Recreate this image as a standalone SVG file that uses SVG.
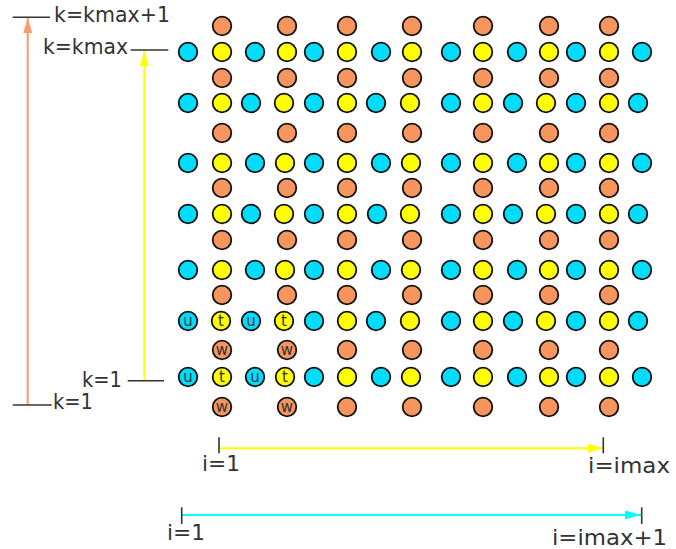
<svg xmlns="http://www.w3.org/2000/svg" width="676" height="549" viewBox="0 0 676 549">
<style>
.c{fill:#00dcfc;stroke:#111;stroke-width:1.8}
.y{fill:#ffff00;stroke:#111;stroke-width:1.8}
.o{fill:#f7955f;stroke:#111;stroke-width:1.8}
.lbl{font-family:"DejaVu Sans",sans-serif;font-size:21px;fill:#333}
.sm{font-family:"DejaVu Sans",sans-serif;font-size:15px;fill:#333;text-anchor:middle}
.dk{stroke:#333;stroke-width:1.6;fill:none}
</style>
<defs>
<marker id="aO" markerUnits="userSpaceOnUse" markerWidth="15" markerHeight="9" refX="15" refY="4.5" orient="auto"><path d="M0,0 L15,4.5 L0,9 z" fill="#fa9a6a"/></marker>
<marker id="aY" markerUnits="userSpaceOnUse" markerWidth="15" markerHeight="9" refX="15" refY="4.5" orient="auto"><path d="M0,0 L15,4.5 L0,9 z" fill="#ffff00"/></marker>
<marker id="aC" markerUnits="userSpaceOnUse" markerWidth="16" markerHeight="9" refX="16" refY="4.5" orient="auto"><path d="M0,0 L16,4.5 L0,9 z" fill="#00ffff"/></marker>
</defs>
<g id="connectors">
<line x1="27.7" y1="405" x2="27.7" y2="18" stroke="#fa9a6a" stroke-width="2" marker-end="url(#aO)"/>
<line x1="144.3" y1="380.7" x2="144.3" y2="51" stroke="#ffff00" stroke-width="2" marker-end="url(#aY)"/>
<line x1="219" y1="448.3" x2="603" y2="448.3" stroke="#ffff00" stroke-width="2" marker-end="url(#aY)"/>
<line x1="181.7" y1="515" x2="641" y2="515" stroke="#00ffff" stroke-width="2" marker-end="url(#aC)"/>
<line class="dk" x1="12.7" y1="17.3" x2="50" y2="17.3"/>
<line class="dk" x1="130.7" y1="50" x2="168.3" y2="50"/>
<line class="dk" x1="127.7" y1="380.7" x2="164" y2="380.7"/>
<line class="dk" x1="12.7" y1="405" x2="51.7" y2="405"/>
<line class="dk" x1="219" y1="437.3" x2="219" y2="453.3"/>
<line class="dk" x1="603.3" y1="437.3" x2="603.3" y2="453.3"/>
<line class="dk" x1="181.7" y1="507.3" x2="181.7" y2="524"/>
<line class="dk" x1="641.7" y1="507.3" x2="641.7" y2="524"/>
</g>
<g id="labels">
<text class="lbl" x="54" y="22" textLength="116" lengthAdjust="spacingAndGlyphs">k=kmax+1</text>
<text class="lbl" x="43" y="54" textLength="85" lengthAdjust="spacingAndGlyphs">k=kmax</text>
<text class="lbl" x="82" y="387" textLength="40" lengthAdjust="spacingAndGlyphs">k=1</text>
<text class="lbl" x="53" y="409" textLength="40" lengthAdjust="spacingAndGlyphs">k=1</text>
<text class="lbl" x="202" y="471" textLength="38" lengthAdjust="spacingAndGlyphs">i=1</text>
<text class="lbl" x="588" y="473" textLength="82" lengthAdjust="spacingAndGlyphs">i=imax</text>
<text class="lbl" x="167" y="540" textLength="38" lengthAdjust="spacingAndGlyphs">i=1</text>
<text class="lbl" x="552" y="545" textLength="115" lengthAdjust="spacingAndGlyphs">i=imax+1</text>
</g>
<g id="orange-row1">
<g id="o1-1"><circle class="o" cx="222" cy="26" r="9.3"/></g>
<g id="o1-2"><circle class="o" cx="287" cy="26" r="9.3"/></g>
<g id="o1-3"><circle class="o" cx="347" cy="26" r="9.3"/></g>
<g id="o1-4"><circle class="o" cx="412" cy="26" r="9.3"/></g>
<g id="o1-5"><circle class="o" cx="483" cy="26" r="9.3"/></g>
<g id="o1-6"><circle class="o" cx="549" cy="26" r="9.3"/></g>
<g id="o1-7"><circle class="o" cx="609" cy="26" r="9.3"/></g>
</g>
<g id="orange-row2">
<g id="o2-1"><circle class="o" cx="222" cy="78" r="9.3"/></g>
<g id="o2-2"><circle class="o" cx="287" cy="78" r="9.3"/></g>
<g id="o2-3"><circle class="o" cx="347" cy="78" r="9.3"/></g>
<g id="o2-4"><circle class="o" cx="412" cy="78" r="9.3"/></g>
<g id="o2-5"><circle class="o" cx="483" cy="78" r="9.3"/></g>
<g id="o2-6"><circle class="o" cx="549" cy="78" r="9.3"/></g>
<g id="o2-7"><circle class="o" cx="609" cy="78" r="9.3"/></g>
</g>
<g id="orange-row3">
<g id="o3-1"><circle class="o" cx="222" cy="133" r="9.3"/></g>
<g id="o3-2"><circle class="o" cx="287" cy="133" r="9.3"/></g>
<g id="o3-3"><circle class="o" cx="347" cy="133" r="9.3"/></g>
<g id="o3-4"><circle class="o" cx="412" cy="133" r="9.3"/></g>
<g id="o3-5"><circle class="o" cx="483" cy="133" r="9.3"/></g>
<g id="o3-6"><circle class="o" cx="549" cy="133" r="9.3"/></g>
<g id="o3-7"><circle class="o" cx="609" cy="133" r="9.3"/></g>
</g>
<g id="orange-row4">
<g id="o4-1"><circle class="o" cx="222" cy="188" r="9.3"/></g>
<g id="o4-2"><circle class="o" cx="287" cy="188" r="9.3"/></g>
<g id="o4-3"><circle class="o" cx="347" cy="188" r="9.3"/></g>
<g id="o4-4"><circle class="o" cx="412" cy="188" r="9.3"/></g>
<g id="o4-5"><circle class="o" cx="483" cy="188" r="9.3"/></g>
<g id="o4-6"><circle class="o" cx="549" cy="188" r="9.3"/></g>
<g id="o4-7"><circle class="o" cx="609" cy="188" r="9.3"/></g>
</g>
<g id="orange-row5">
<g id="o5-1"><circle class="o" cx="222" cy="240" r="9.3"/></g>
<g id="o5-2"><circle class="o" cx="287" cy="240" r="9.3"/></g>
<g id="o5-3"><circle class="o" cx="347" cy="240" r="9.3"/></g>
<g id="o5-4"><circle class="o" cx="412" cy="240" r="9.3"/></g>
<g id="o5-5"><circle class="o" cx="483" cy="240" r="9.3"/></g>
<g id="o5-6"><circle class="o" cx="549" cy="240" r="9.3"/></g>
<g id="o5-7"><circle class="o" cx="609" cy="240" r="9.3"/></g>
</g>
<g id="orange-row6">
<g id="o6-1"><circle class="o" cx="222" cy="295" r="9.3"/></g>
<g id="o6-2"><circle class="o" cx="287" cy="295" r="9.3"/></g>
<g id="o6-3"><circle class="o" cx="347" cy="295" r="9.3"/></g>
<g id="o6-4"><circle class="o" cx="412" cy="295" r="9.3"/></g>
<g id="o6-5"><circle class="o" cx="483" cy="295" r="9.3"/></g>
<g id="o6-6"><circle class="o" cx="549" cy="295" r="9.3"/></g>
<g id="o6-7"><circle class="o" cx="609" cy="295" r="9.3"/></g>
</g>
<g id="orange-row7">
<g id="o7-1"><circle class="o" cx="222" cy="350" r="9.3"/><text class="sm" x="222" y="355">w</text></g>
<g id="o7-2"><circle class="o" cx="287" cy="350" r="9.3"/><text class="sm" x="287" y="355">w</text></g>
<g id="o7-3"><circle class="o" cx="347" cy="350" r="9.3"/></g>
<g id="o7-4"><circle class="o" cx="412" cy="350" r="9.3"/></g>
<g id="o7-5"><circle class="o" cx="483" cy="350" r="9.3"/></g>
<g id="o7-6"><circle class="o" cx="549" cy="350" r="9.3"/></g>
<g id="o7-7"><circle class="o" cx="609" cy="350" r="9.3"/></g>
</g>
<g id="orange-row8">
<g id="o8-1"><circle class="o" cx="222" cy="407" r="9.3"/><text class="sm" x="222" y="412">w</text></g>
<g id="o8-2"><circle class="o" cx="287" cy="407" r="9.3"/><text class="sm" x="287" y="412">w</text></g>
<g id="o8-3"><circle class="o" cx="347" cy="407" r="9.3"/></g>
<g id="o8-4"><circle class="o" cx="412" cy="407" r="9.3"/></g>
<g id="o8-5"><circle class="o" cx="483" cy="407" r="9.3"/></g>
<g id="o8-6"><circle class="o" cx="549" cy="407" r="9.3"/></g>
<g id="o8-7"><circle class="o" cx="609" cy="407" r="9.3"/></g>
</g>
<g id="row1">
<g id="c1-1"><circle class="c" cx="188" cy="52" r="9.3"/></g>
<g id="y1-1"><circle class="y" cx="222" cy="52" r="9.3"/></g>
<g id="c1-2"><circle class="c" cx="255" cy="52" r="9.3"/></g>
<g id="y1-2"><circle class="y" cx="287" cy="52" r="9.3"/></g>
<g id="c1-3"><circle class="c" cx="314" cy="52" r="9.3"/></g>
<g id="y1-3"><circle class="y" cx="347" cy="52" r="9.3"/></g>
<g id="c1-4"><circle class="c" cx="381" cy="52" r="9.3"/></g>
<g id="y1-4"><circle class="y" cx="412" cy="52" r="9.3"/></g>
<g id="c1-5"><circle class="c" cx="451" cy="52" r="9.3"/></g>
<g id="y1-5"><circle class="y" cx="483" cy="52" r="9.3"/></g>
<g id="c1-6"><circle class="c" cx="517" cy="52" r="9.3"/></g>
<g id="y1-6"><circle class="y" cx="549" cy="52" r="9.3"/></g>
<g id="c1-7"><circle class="c" cx="576" cy="52" r="9.3"/></g>
<g id="y1-7"><circle class="y" cx="609" cy="52" r="9.3"/></g>
<g id="c1-8"><circle class="c" cx="642" cy="52" r="9.3"/></g>
</g>
<g id="row2">
<g id="c2-1"><circle class="c" cx="188" cy="103" r="9.3"/></g>
<g id="y2-1"><circle class="y" cx="222" cy="103" r="9.3"/></g>
<g id="c2-2"><circle class="c" cx="251" cy="103" r="9.3"/></g>
<g id="y2-2"><circle class="y" cx="284" cy="103" r="9.3"/></g>
<g id="c2-3"><circle class="c" cx="314" cy="103" r="9.3"/></g>
<g id="y2-3"><circle class="y" cx="347" cy="103" r="9.3"/></g>
<g id="c2-4"><circle class="c" cx="376" cy="103" r="9.3"/></g>
<g id="y2-4"><circle class="y" cx="410" cy="103" r="9.3"/></g>
<g id="c2-5"><circle class="c" cx="451" cy="103" r="9.3"/></g>
<g id="y2-5"><circle class="y" cx="483" cy="103" r="9.3"/></g>
<g id="c2-6"><circle class="c" cx="513" cy="103" r="9.3"/></g>
<g id="y2-6"><circle class="y" cx="546" cy="103" r="9.3"/></g>
<g id="c2-7"><circle class="c" cx="576" cy="103" r="9.3"/></g>
<g id="y2-7"><circle class="y" cx="609" cy="103" r="9.3"/></g>
<g id="c2-8"><circle class="c" cx="638" cy="103" r="9.3"/></g>
</g>
<g id="row3">
<g id="c3-1"><circle class="c" cx="188" cy="163" r="9.3"/></g>
<g id="y3-1"><circle class="y" cx="222" cy="163" r="9.3"/></g>
<g id="c3-2"><circle class="c" cx="255" cy="163" r="9.3"/></g>
<g id="y3-2"><circle class="y" cx="285" cy="163" r="9.3"/></g>
<g id="c3-3"><circle class="c" cx="314" cy="163" r="9.3"/></g>
<g id="y3-3"><circle class="y" cx="347" cy="163" r="9.3"/></g>
<g id="c3-4"><circle class="c" cx="381" cy="163" r="9.3"/></g>
<g id="y3-4"><circle class="y" cx="411" cy="163" r="9.3"/></g>
<g id="c3-5"><circle class="c" cx="451" cy="163" r="9.3"/></g>
<g id="y3-5"><circle class="y" cx="483" cy="163" r="9.3"/></g>
<g id="c3-6"><circle class="c" cx="517" cy="163" r="9.3"/></g>
<g id="y3-6"><circle class="y" cx="549" cy="163" r="9.3"/></g>
<g id="c3-7"><circle class="c" cx="576" cy="163" r="9.3"/></g>
<g id="y3-7"><circle class="y" cx="609" cy="163" r="9.3"/></g>
<g id="c3-8"><circle class="c" cx="642" cy="163" r="9.3"/></g>
</g>
<g id="row4">
<g id="c4-1"><circle class="c" cx="188" cy="214" r="9.3"/></g>
<g id="y4-1"><circle class="y" cx="222" cy="214" r="9.3"/></g>
<g id="c4-2"><circle class="c" cx="251" cy="214" r="9.3"/></g>
<g id="y4-2"><circle class="y" cx="284" cy="214" r="9.3"/></g>
<g id="c4-3"><circle class="c" cx="314" cy="214" r="9.3"/></g>
<g id="y4-3"><circle class="y" cx="347" cy="214" r="9.3"/></g>
<g id="c4-4"><circle class="c" cx="377" cy="214" r="9.3"/></g>
<g id="y4-4"><circle class="y" cx="410" cy="214" r="9.3"/></g>
<g id="c4-5"><circle class="c" cx="451" cy="214" r="9.3"/></g>
<g id="y4-5"><circle class="y" cx="483" cy="214" r="9.3"/></g>
<g id="c4-6"><circle class="c" cx="513" cy="214" r="9.3"/></g>
<g id="y4-6"><circle class="y" cx="546" cy="214" r="9.3"/></g>
<g id="c4-7"><circle class="c" cx="576" cy="214" r="9.3"/></g>
<g id="y4-7"><circle class="y" cx="609" cy="214" r="9.3"/></g>
<g id="c4-8"><circle class="c" cx="638" cy="214" r="9.3"/></g>
</g>
<g id="row5">
<g id="c5-1"><circle class="c" cx="188" cy="270" r="9.3"/></g>
<g id="y5-1"><circle class="y" cx="222" cy="270" r="9.3"/></g>
<g id="c5-2"><circle class="c" cx="255" cy="270" r="9.3"/></g>
<g id="y5-2"><circle class="y" cx="285" cy="270" r="9.3"/></g>
<g id="c5-3"><circle class="c" cx="314" cy="270" r="9.3"/></g>
<g id="y5-3"><circle class="y" cx="347" cy="270" r="9.3"/></g>
<g id="c5-4"><circle class="c" cx="381" cy="270" r="9.3"/></g>
<g id="y5-4"><circle class="y" cx="411" cy="270" r="9.3"/></g>
<g id="c5-5"><circle class="c" cx="451" cy="270" r="9.3"/></g>
<g id="y5-5"><circle class="y" cx="483" cy="270" r="9.3"/></g>
<g id="c5-6"><circle class="c" cx="517" cy="270" r="9.3"/></g>
<g id="y5-6"><circle class="y" cx="549" cy="270" r="9.3"/></g>
<g id="c5-7"><circle class="c" cx="576" cy="270" r="9.3"/></g>
<g id="y5-7"><circle class="y" cx="609" cy="270" r="9.3"/></g>
<g id="c5-8"><circle class="c" cx="642" cy="270" r="9.3"/></g>
</g>
<g id="row6">
<g id="c6-1"><circle class="c" cx="188" cy="321" r="9.3"/><text class="sm" x="188" y="325.5">u</text></g>
<g id="y6-1"><circle class="y" cx="221" cy="321" r="9.3"/><text class="sm" x="221" y="325.5">t</text></g>
<g id="c6-2"><circle class="c" cx="251" cy="321" r="9.3"/><text class="sm" x="251" y="325.5">u</text></g>
<g id="y6-2"><circle class="y" cx="284" cy="321" r="9.3"/><text class="sm" x="284" y="325.5">t</text></g>
<g id="c6-3"><circle class="c" cx="314" cy="321" r="9.3"/></g>
<g id="y6-3"><circle class="y" cx="347" cy="321" r="9.3"/></g>
<g id="c6-4"><circle class="c" cx="376" cy="321" r="9.3"/></g>
<g id="y6-4"><circle class="y" cx="410" cy="321" r="9.3"/></g>
<g id="c6-5"><circle class="c" cx="451" cy="321" r="9.3"/></g>
<g id="y6-5"><circle class="y" cx="483" cy="321" r="9.3"/></g>
<g id="c6-6"><circle class="c" cx="513" cy="321" r="9.3"/></g>
<g id="y6-6"><circle class="y" cx="546" cy="321" r="9.3"/></g>
<g id="c6-7"><circle class="c" cx="576" cy="321" r="9.3"/></g>
<g id="y6-7"><circle class="y" cx="609" cy="321" r="9.3"/></g>
<g id="c6-8"><circle class="c" cx="638" cy="321" r="9.3"/></g>
</g>
<g id="row7">
<g id="c7-1"><circle class="c" cx="188" cy="377" r="9.3"/><text class="sm" x="188" y="381.5">u</text></g>
<g id="y7-1"><circle class="y" cx="222" cy="377" r="9.3"/><text class="sm" x="222" y="381.5">t</text></g>
<g id="c7-2"><circle class="c" cx="255" cy="377" r="9.3"/><text class="sm" x="255" y="381.5">u</text></g>
<g id="y7-2"><circle class="y" cx="285" cy="377" r="9.3"/><text class="sm" x="285" y="381.5">t</text></g>
<g id="c7-3"><circle class="c" cx="314" cy="377" r="9.3"/></g>
<g id="y7-3"><circle class="y" cx="347" cy="377" r="9.3"/></g>
<g id="c7-4"><circle class="c" cx="381" cy="377" r="9.3"/></g>
<g id="y7-4"><circle class="y" cx="411" cy="377" r="9.3"/></g>
<g id="c7-5"><circle class="c" cx="451" cy="377" r="9.3"/></g>
<g id="y7-5"><circle class="y" cx="483" cy="377" r="9.3"/></g>
<g id="c7-6"><circle class="c" cx="517" cy="377" r="9.3"/></g>
<g id="y7-6"><circle class="y" cx="549" cy="377" r="9.3"/></g>
<g id="c7-7"><circle class="c" cx="576" cy="377" r="9.3"/></g>
<g id="y7-7"><circle class="y" cx="609" cy="377" r="9.3"/></g>
<g id="c7-8"><circle class="c" cx="642" cy="377" r="9.3"/></g>
</g>
</svg>
